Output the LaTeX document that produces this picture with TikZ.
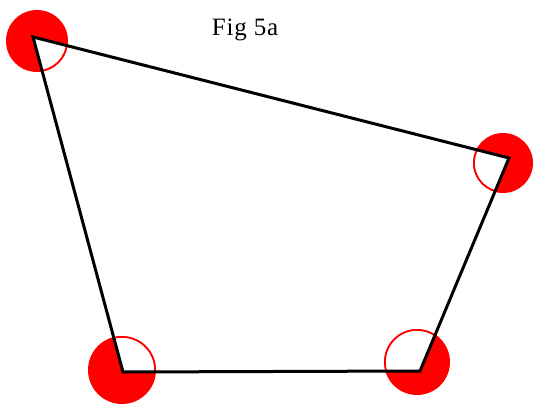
\documentclass[tikz,border=0pt]{standalone}
\usepackage{fontspec}
\setmainfont{Liberation Serif}
\begin{document}
\begin{tikzpicture}[x=1pt,y=-1pt,
  edge/.style={line width=3pt,line join=miter,black},
  disc/.style={fill=red},
  ring/.style={draw=red,line width=1.6pt}]
\useasboundingbox (0,0) rectangle (534,406);
\coordinate (A) at (33,37);
\coordinate (B) at (509,158);
\coordinate (C) at (420,371);
\coordinate (D) at (123,372);
\coordinate (cA) at (37,41);
\coordinate (cB) at (503,163);
\coordinate (cC) at (417,362);
\coordinate (cD) at (122,370);
\begin{scope}
  \clip (0,0) rectangle (534,406);
  \fill[disc] (cA) circle (31);
  \fill[disc] (cB) circle (30);
  \fill[disc] (cC) circle (33);
  \fill[disc] (cD) circle (34);
  \begin{scope}
    \clip (A)--(B)--(C)--(D)--cycle;
    \fill[white] (cA) circle (30);
    \fill[white] (cB) circle (29);
    \fill[white] (cC) circle (32);
    \fill[white] (cD) circle (33);
    \draw[ring] (cA) circle (30);
    \draw[ring] (cB) circle (29);
    \draw[ring] (cC) circle (32);
    \draw[ring] (cD) circle (33);
  \end{scope}
\end{scope}
\draw[edge] (A)--(B)--(C)--(D)--cycle;
\node[font=\fontsize{25}{29}\selectfont\addfontfeatures{LetterSpace=3},inner sep=0pt,anchor=base] (title) at (245,36) {Fig 5a};
\end{tikzpicture}
\end{document}
